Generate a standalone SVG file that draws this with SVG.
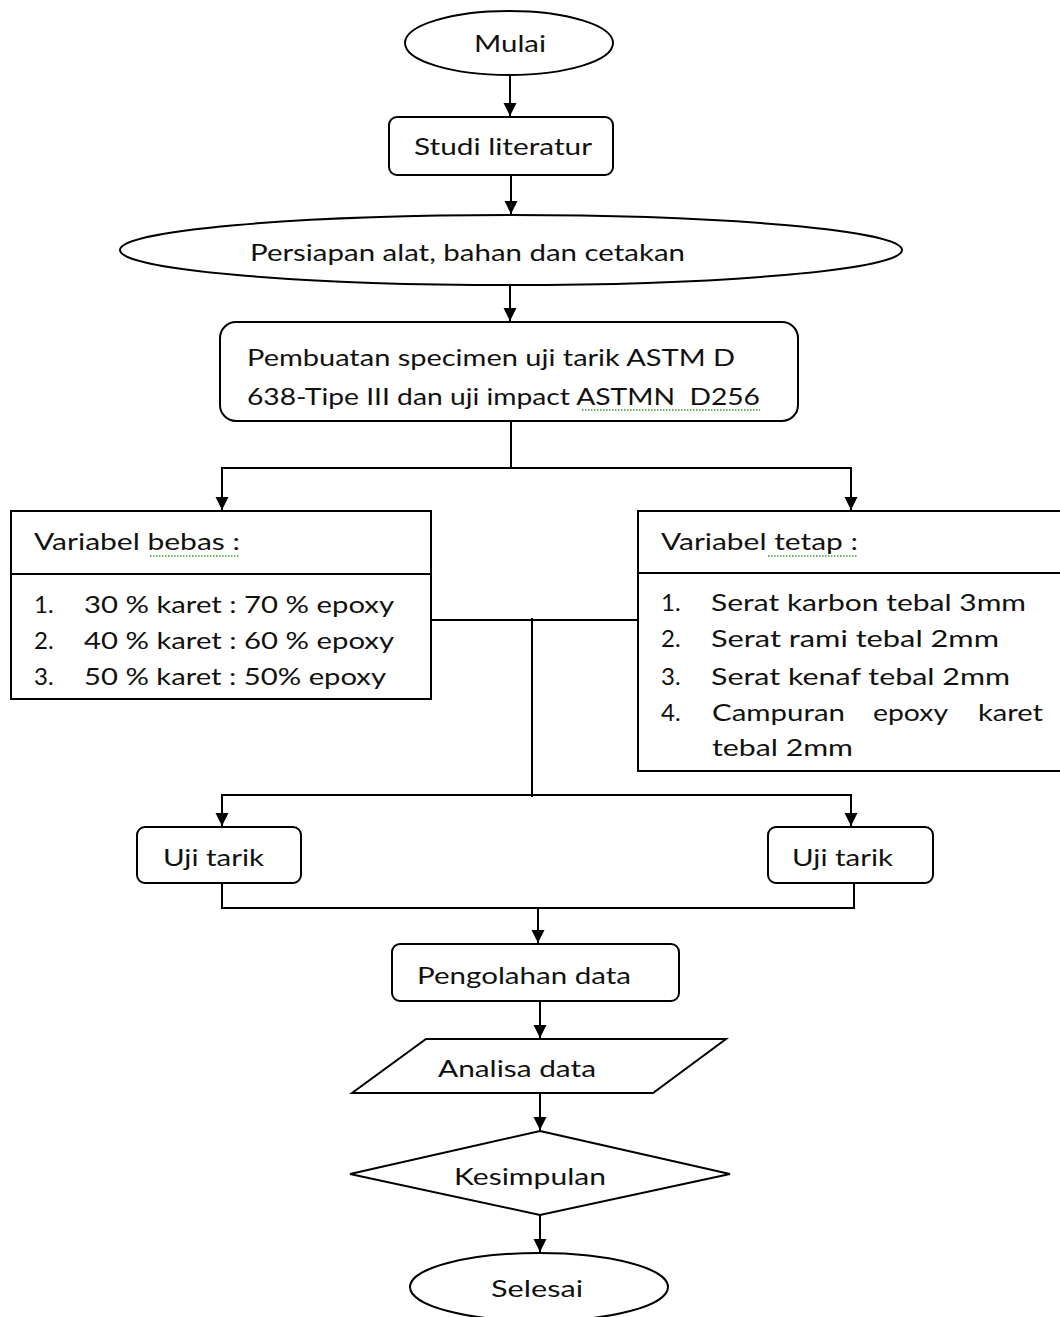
<svg xmlns="http://www.w3.org/2000/svg" width="1060" height="1317" viewBox="0 0 1060 1317">
<style>
.s{fill:#fff;stroke:#000;stroke-width:2}
.c{fill:none;stroke:#000;stroke-width:2}
.t{font-family:Lato,"Liberation Sans",sans-serif;font-size:24px;fill:#111}
.sq{fill:none;stroke:#3a9a3a;stroke-width:1.3;stroke-dasharray:1.5 1.5}
</style>
<defs>
<marker id="a" markerWidth="14" markerHeight="14" refX="13" refY="6.5" orient="auto" markerUnits="userSpaceOnUse">
<path d="M0,0 L13,6.5 L0,13 z" fill="#000"/>
</marker>
</defs>
<rect width="1060" height="1317" fill="#fff"/>
<g id="connectors">
<line class="c" x1="510" y1="75" x2="510" y2="116" marker-end="url(#a)"/>
<line class="c" x1="511" y1="175" x2="511" y2="214" marker-end="url(#a)"/>
<line class="c" x1="510" y1="285" x2="510" y2="321" marker-end="url(#a)"/>
<polyline class="c" points="511,421 511,468"/>
<polyline class="c" points="511,468 222,468 222,510" marker-end="url(#a)"/>
<polyline class="c" points="511,468 851,468 851,510" marker-end="url(#a)"/>
<line class="c" x1="431" y1="620" x2="638" y2="620"/>
<line class="c" x1="532" y1="618" x2="532" y2="797"/>
<polyline class="c" points="532,795 222,795 222,826" marker-end="url(#a)"/>
<polyline class="c" points="532,795 851,795 851,826" marker-end="url(#a)"/>
<polyline class="c" points="222,883 222,908 854,908 854,883"/>
<line class="c" x1="538" y1="908" x2="538" y2="943" marker-end="url(#a)"/>
<line class="c" x1="540" y1="1001" x2="540" y2="1038" marker-end="url(#a)"/>
<line class="c" x1="540" y1="1093" x2="540" y2="1130" marker-end="url(#a)"/>
<line class="c" x1="540" y1="1215" x2="540" y2="1252" marker-end="url(#a)"/>
</g>
<g id="mulai">
<ellipse class="s" cx="509" cy="43" rx="104" ry="32"/>
<text class="t" x="474" y="52" textLength="72" lengthAdjust="spacingAndGlyphs">Mulai</text>
</g>
<g id="studi">
<rect class="s" x="389" y="117" width="224" height="58" rx="8"/>
<text class="t" x="414" y="155" textLength="178" lengthAdjust="spacingAndGlyphs">Studi literatur</text>
</g>
<g id="persiapan">
<ellipse class="s" cx="511" cy="250" rx="391" ry="35"/>
<text class="t" x="250" y="261" textLength="435" lengthAdjust="spacingAndGlyphs">Persiapan alat, bahan dan cetakan</text>
</g>
<g id="pembuatan">
<rect class="s" x="220" y="322" width="578" height="99" rx="16"/>
<text class="t" x="247" y="366" textLength="488" lengthAdjust="spacingAndGlyphs">Pembuatan specimen uji tarik ASTM D</text>
<text class="t" x="247" y="405" textLength="513" lengthAdjust="spacingAndGlyphs" xml:space="preserve">638-Tipe III dan uji impact ASTMN  D256</text>
<path class="sq" d="M582,410 L760,410"/>
</g>
<g id="variabel-bebas">
<rect class="s" x="11" y="511" width="420" height="188"/>
<line class="c" x1="11" y1="574" x2="431" y2="574"/>
<text class="t" x="34" y="550" textLength="206" lengthAdjust="spacingAndGlyphs">Variabel bebas :</text>
<path class="sq" d="M150,556 L240,556"/>
<text class="t" x="34" y="613">1.</text>
<text class="t" x="84" y="613" textLength="310" lengthAdjust="spacingAndGlyphs">30 % karet : 70 % epoxy</text>
<text class="t" x="34" y="649">2.</text>
<text class="t" x="84" y="649" textLength="310" lengthAdjust="spacingAndGlyphs">40 % karet : 60 % epoxy</text>
<text class="t" x="34" y="685">3.</text>
<text class="t" x="84" y="685" textLength="302" lengthAdjust="spacingAndGlyphs">50 % karet : 50% epoxy</text>
</g>
<g id="variabel-tetap">
<rect class="s" x="638" y="511" width="430" height="260"/>
<line class="c" x1="638" y1="573" x2="1068" y2="573"/>
<text class="t" x="661" y="550" textLength="197" lengthAdjust="spacingAndGlyphs">Variabel tetap :</text>
<path class="sq" d="M768,556 L858,556"/>
<text class="t" x="661" y="611">1.</text>
<text class="t" x="711" y="611" textLength="315" lengthAdjust="spacingAndGlyphs">Serat karbon tebal 3mm</text>
<text class="t" x="661" y="647">2.</text>
<text class="t" x="711" y="647" textLength="288" lengthAdjust="spacingAndGlyphs">Serat rami tebal 2mm</text>
<text class="t" x="661" y="685">3.</text>
<text class="t" x="711" y="685" textLength="299" lengthAdjust="spacingAndGlyphs">Serat kenaf tebal 2mm</text>
<text class="t" x="661" y="721">4.</text>
<text class="t" x="712" y="721" textLength="133" lengthAdjust="spacingAndGlyphs">Campuran</text>
<text class="t" x="873" y="721" textLength="75" lengthAdjust="spacingAndGlyphs">epoxy</text>
<text class="t" x="978" y="721" textLength="65" lengthAdjust="spacingAndGlyphs">karet</text>
<text class="t" x="712" y="756" textLength="141" lengthAdjust="spacingAndGlyphs">tebal 2mm</text>
</g>
<g id="uji-tarik-1">
<rect class="s" x="137" y="827" width="164" height="56" rx="8"/>
<text class="t" x="163" y="866" textLength="101" lengthAdjust="spacingAndGlyphs">Uji tarik</text>
</g>
<g id="uji-tarik-2">
<rect class="s" x="768" y="827" width="165" height="56" rx="8"/>
<text class="t" x="792" y="866" textLength="101" lengthAdjust="spacingAndGlyphs">Uji tarik</text>
</g>
<g id="pengolahan">
<rect class="s" x="392" y="944" width="287" height="57" rx="8"/>
<text class="t" x="417" y="984" textLength="214" lengthAdjust="spacingAndGlyphs">Pengolahan data</text>
</g>
<g id="analisa">
<polygon class="s" points="426,1039 726,1039 653,1093 352,1093"/>
<text class="t" x="438" y="1077" textLength="158" lengthAdjust="spacingAndGlyphs">Analisa data</text>
</g>
<g id="kesimpulan">
<polygon class="s" points="540,1131 730,1174 540,1215 350,1174"/>
<text class="t" x="454" y="1185" textLength="152" lengthAdjust="spacingAndGlyphs">Kesimpulan</text>
</g>
<g id="selesai">
<ellipse class="s" cx="539" cy="1287" rx="129" ry="34"/>
<text class="t" x="491" y="1297" textLength="92" lengthAdjust="spacingAndGlyphs">Selesai</text>
</g>
</svg>
